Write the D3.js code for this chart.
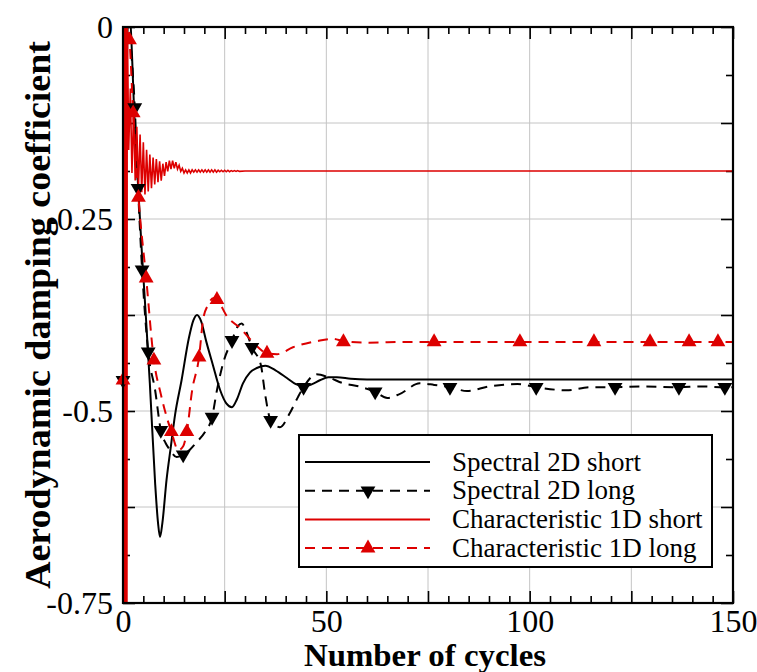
<!DOCTYPE html>
<html><head><meta charset="utf-8">
<script src="https://cdn.jsdelivr.net/npm/d3@7"></script>
<style>body{margin:0;background:#fff}</style>
</head><body><svg id="c" width="757" height="672"></svg>
<script>
// ---------- data ----------
const xTickLabels = [0, 50, 100, 150];
const yTickLabels = [0, -0.25, -0.5, -0.75];
const legendNames = ["Spectral 2D short", "Spectral 2D long", "Characteristic 1D short", "Characteristic 1D long"];

const spectral2DShort = [[0,-0.46],[1.5,0.02],[3.0,-0.14],[4.6,-0.29],[5.6,-0.375],[6.6,-0.464],[7.9,-0.594],[8.6,-0.645],[9.1,-0.664],[9.7,-0.645],[10.7,-0.59],[11.8,-0.545],[12.8,-0.505],[14.4,-0.46],[16.2,-0.405],[17.3,-0.382],[18.2,-0.375],[19.2,-0.383],[20.5,-0.41],[22.1,-0.44],[23.9,-0.473],[25.4,-0.49],[26.8,-0.495],[28.0,-0.485],[29.5,-0.464],[31.2,-0.45],[32.9,-0.444],[35.0,-0.441],[37.5,-0.447],[40.3,-0.457],[42.5,-0.465],[44.5,-0.468],[46.5,-0.465],[48.4,-0.46],[50.5,-0.456],[52.6,-0.456],[56,-0.458],[60,-0.459],[150,-0.459]];

const spectral2DLong = [[0,-0.46],[1.2,0.02],[2.0,-0.03],[2.9,-0.105],[3.7,-0.21],[4.7,-0.316],[6.2,-0.423],[7.9,-0.473],[9.3,-0.525],[10.5,-0.542],[11.6,-0.551],[13.2,-0.56],[14.8,-0.557],[16.5,-0.55],[18.2,-0.54],[20.2,-0.527],[21.9,-0.508],[23.1,-0.473],[24.6,-0.438],[26.8,-0.408],[28.3,-0.389],[29.2,-0.386],[30.4,-0.398],[31.7,-0.417],[33.9,-0.44],[35.0,-0.48],[36.3,-0.512],[38.6,-0.521],[41.0,-0.503],[43.1,-0.481],[44.4,-0.469],[47.6,-0.452],[50.9,-0.457],[54.2,-0.464],[58.0,-0.468],[62,-0.475],[65,-0.483],[68,-0.478],[73,-0.464],[76.5,-0.466],[80.4,-0.469],[84.6,-0.474],[90,-0.468],[97,-0.465],[101.6,-0.469],[109,-0.473],[115,-0.469],[121,-0.469],[128,-0.468],[136.7,-0.469],[142,-0.468],[148,-0.469],[150,-0.469]];
const spectral2DLongMarkers = [[0,-0.46],[2.9,-0.105],[3.7,-0.21],[4.7,-0.316],[6.2,-0.423],[9.3,-0.525],[14.8,-0.557],[21.9,-0.508],[26.8,-0.408],[31.7,-0.417],[36.3,-0.512],[44.4,-0.469],[62,-0.475],[80.4,-0.469],[101.6,-0.469],[121,-0.469],[136.7,-0.469],[148,-0.469]];

const char1DShort = [[0,-0.46],[0.08,0.05],[0.16,-0.8],[0.24,0.05],[0.32,-0.8],[0.4,0.05],[0.48,-0.8],[0.56,0.05],[0.64,-0.8],[0.72,0.05],[0.8,-0.8],[0.88,0.05],[0.96,-0.8],[1.04,0.02],
[1.4,-0.16],[1.8,-0.08],[2.2,-0.19],[2.6,-0.11],[3.0,-0.2],[3.4,-0.13],[3.8,-0.21],[4.2,-0.14],[4.6,-0.215],[5.0,-0.15],[5.4,-0.218],[5.8,-0.16],[6.2,-0.214],[6.6,-0.166],[7.0,-0.21],[7.4,-0.17],[7.8,-0.205],[8.2,-0.172],[8.6,-0.202],[9.0,-0.175],[9.4,-0.2],[9.8,-0.178],[10.2,-0.194],[10.6,-0.176],[11.0,-0.188],[11.4,-0.174],[11.8,-0.185],[12.2,-0.174],[12.6,-0.184],[13.0,-0.176],[13.4,-0.185],[13.8,-0.18],[14.2,-0.188],[14.6,-0.184],[15.0,-0.19],[15.4,-0.186],[15.8,-0.19],[16.2,-0.186],[16.6,-0.19],[17.0,-0.186],[17.4,-0.189],[17.8,-0.186],[18.2,-0.189],[18.6,-0.186],[19.0,-0.189],[19.4,-0.186],[19.8,-0.189],[20.2,-0.186],[20.6,-0.189],[21.0,-0.186],[21.4,-0.189],[21.8,-0.186],[22.2,-0.189],[22.6,-0.186],[23.0,-0.189],[23.4,-0.1865],[23.8,-0.1885],[24.2,-0.1865],[24.6,-0.1885],[25.0,-0.1865],[25.4,-0.1885],[25.8,-0.1865],[26.2,-0.1885],[26.6,-0.187],[27.0,-0.188],[27.4,-0.187],[27.8,-0.188],[28.2,-0.187],[28.6,-0.188],[30,-0.1875],[150,-0.1875]];

const char1DLong = [[0,-0.46],[1.0,0.01],[1.6,-0.017],[2.5,-0.112],[3.8,-0.222],[5.7,-0.327],[7.6,-0.434],[9.3,-0.478],[10.7,-0.507],[11.9,-0.527],[13.6,-0.551],[14.8,-0.546],[15.7,-0.527],[17.0,-0.473],[18.7,-0.43],[19.7,-0.381],[20.9,-0.362],[22.3,-0.353],[23.1,-0.355],[25.6,-0.377],[28.8,-0.392],[33,-0.416],[35.4,-0.425],[37.9,-0.426],[41.8,-0.417],[47.7,-0.409],[51.6,-0.406],[54.2,-0.409],[60,-0.411],[70,-0.41],[150,-0.41]];
const char1DLongMarkers = [[0,-0.46],[1.6,-0.017],[2.5,-0.112],[3.8,-0.222],[5.7,-0.327],[7.6,-0.434],[11.9,-0.527],[15.7,-0.527],[18.7,-0.43],[23.1,-0.355],[35.4,-0.425],[54.2,-0.41],[76.5,-0.41],[97.6,-0.41],[115.8,-0.41],[129.6,-0.41],[139.2,-0.41],[146.3,-0.41]];

// ---------- drawing ----------
const RED = "#dd0000";
const svg = d3.select("#c");
const L = 123, R = 733, T = 27, B = 603;
const x = d3.scaleLinear().domain([0, 150]).range([L, R]);
const y = d3.scaleLinear().domain([-0.75, 0]).range([B, T]);
const serif = "Liberation Serif, Times New Roman, serif";

svg.append("rect").attr("width", 757).attr("height", 672).attr("fill", "#fff");

// grid
const grid = svg.append("g").attr("stroke", "#c4c4c4").attr("stroke-width", 1);
grid.selectAll(".gx").data(d3.range(25, 150, 25)).join("line")
  .attr("x1", d => x(d)).attr("x2", d => x(d)).attr("y1", T).attr("y2", B);
grid.selectAll(".gy").data(d3.range(-0.125, -0.75, -0.125)).join("line")
  .attr("y1", d => y(d)).attr("y2", d => y(d)).attr("x1", L).attr("x2", R);

// ticks (inward on all four sides)
function tickAxis(axis, tx, ty) {
  const g = svg.append("g").attr("transform", `translate(${tx},${ty})`).call(axis);
  g.select(".domain").remove();
  g.selectAll(".tick line").attr("stroke", "#000").attr("stroke-width", 1.6);
  return g;
}
const xMaj = d3.range(0, 151, 25), xMin = d3.range(0, 151, 5).filter(v => v % 25);
const yMaj = d3.range(0, -0.76, -0.125), yMin = d3.range(-0.0625, -0.75, -0.125);
tickAxis(d3.axisBottom(x).tickValues(xMaj).tickSize(-12).tickFormat(""), 0, B);
tickAxis(d3.axisBottom(x).tickValues(xMin).tickSize(-7).tickFormat(""), 0, B);
tickAxis(d3.axisTop(x).tickValues(xMaj).tickSize(-12).tickFormat(""), 0, T);
tickAxis(d3.axisTop(x).tickValues(xMin).tickSize(-7).tickFormat(""), 0, T);
tickAxis(d3.axisLeft(y).tickValues(yMaj).tickSize(-12).tickFormat(""), L, 0);
tickAxis(d3.axisLeft(y).tickValues(yMin).tickSize(-7).tickFormat(""), L, 0);
tickAxis(d3.axisRight(y).tickValues(yMaj).tickSize(-12).tickFormat(""), R, 0);
tickAxis(d3.axisRight(y).tickValues(yMin).tickSize(-7).tickFormat(""), R, 0);

// tick labels
const fmt = v => v === 0 ? "0" : String(v);
const xl = svg.append("g").attr("transform", `translate(0,${B})`)
  .call(d3.axisBottom(x).tickValues(xTickLabels).tickSize(0).tickPadding(6).tickFormat(d3.format("d")));
xl.select(".domain").remove();
xl.selectAll("text").attr("font-family", serif).attr("font-size", 32).attr("fill", "#000");
const yl = svg.append("g").attr("transform", `translate(${L},0)`)
  .call(d3.axisLeft(y).tickValues(yTickLabels).tickSize(0).tickPadding(10).tickFormat(fmt));
yl.select(".domain").remove();
yl.selectAll("text").attr("font-family", serif).attr("font-size", 32).attr("fill", "#000");

// data lines
svg.append("clipPath").attr("id", "clip").append("rect")
  .attr("x", L).attr("y", T).attr("width", R - L).attr("height", B - T);
const plot = svg.append("g").attr("clip-path", "url(#clip)");
const smooth = d3.line().x(d => x(d[0])).y(d => y(d[1])).curve(d3.curveMonotoneX);
const straight = d3.line().x(d => x(d[0])).y(d => y(d[1]));

plot.append("path").attr("d", smooth(spectral2DShort)).attr("fill", "none").attr("stroke", "#000").attr("stroke-width", 2);
plot.append("path").attr("d", smooth(spectral2DLong)).attr("fill", "none").attr("stroke", "#000").attr("stroke-width", 2).attr("stroke-dasharray", "10,7");
plot.append("path").attr("d", straight(char1DShort)).attr("fill", "none").attr("stroke", RED).attr("stroke-width", 1.6);
plot.append("path").attr("d", smooth(char1DLong)).attr("fill", "none").attr("stroke", RED).attr("stroke-width", 2).attr("stroke-dasharray", "10,7");

// markers
const tri = d3.symbol().type(d3.symbolTriangle).size(95);
svg.append("g").selectAll("path").data(spectral2DLongMarkers).join("path")
  .attr("d", tri).attr("fill", "#000")
  .attr("transform", d => `translate(${x(d[0])},${y(d[1])}) rotate(180)`);
svg.append("g").selectAll("path").data(char1DLongMarkers).join("path")
  .attr("d", tri).attr("fill", RED)
  .attr("transform", d => `translate(${x(d[0])},${y(d[1])})`);

// frame
svg.append("rect").attr("x", L).attr("y", T).attr("width", R - L).attr("height", B - T)
  .attr("fill", "none").attr("stroke", "#000").attr("stroke-width", 2.2);

// axis titles
svg.append("text").attr("x", 425).attr("y", 666).attr("text-anchor", "middle")
  .attr("font-family", serif).attr("font-weight", "bold").attr("font-size", 31)
  .attr("textLength", 242).attr("lengthAdjust", "spacingAndGlyphs")
  .text("Number of cycles");
svg.append("text").attr("transform", "translate(50,315) rotate(-90)").attr("text-anchor", "middle")
  .attr("font-family", serif).attr("font-weight", "bold").attr("font-size", 36)
  .attr("textLength", 548).attr("lengthAdjust", "spacingAndGlyphs")
  .text("Aerodynamic damping coefficient");

// legend
const lg = svg.append("g");
lg.append("rect").attr("x", 299).attr("y", 435).attr("width", 413).attr("height", 132)
  .attr("fill", "#fff").attr("stroke", "#000").attr("stroke-width", 2);
const styles = [
  {c: "#000", dash: null, m: null},
  {c: "#000", dash: "10,7", m: "down"},
  {c: RED, dash: null, m: null},
  {c: RED, dash: "10,7", m: "up"}
];
legendNames.forEach((name, i) => {
  const yy = 462 + i * 28.7;
  lg.append("line").attr("x1", 305).attr("x2", 430).attr("y1", yy).attr("y2", yy)
    .attr("stroke", styles[i].c).attr("stroke-width", 2).attr("stroke-dasharray", styles[i].dash);
  if (styles[i].m) {
    lg.append("path").attr("d", tri).attr("fill", styles[i].c)
      .attr("transform", `translate(368,${yy}) ${styles[i].m === "down" ? "rotate(180)" : ""}`);
  }
  lg.append("text").attr("x", 452).attr("y", yy + 8.5).attr("font-family", serif).attr("font-size", 27)
    .text(name);
});
</script></body></html>
